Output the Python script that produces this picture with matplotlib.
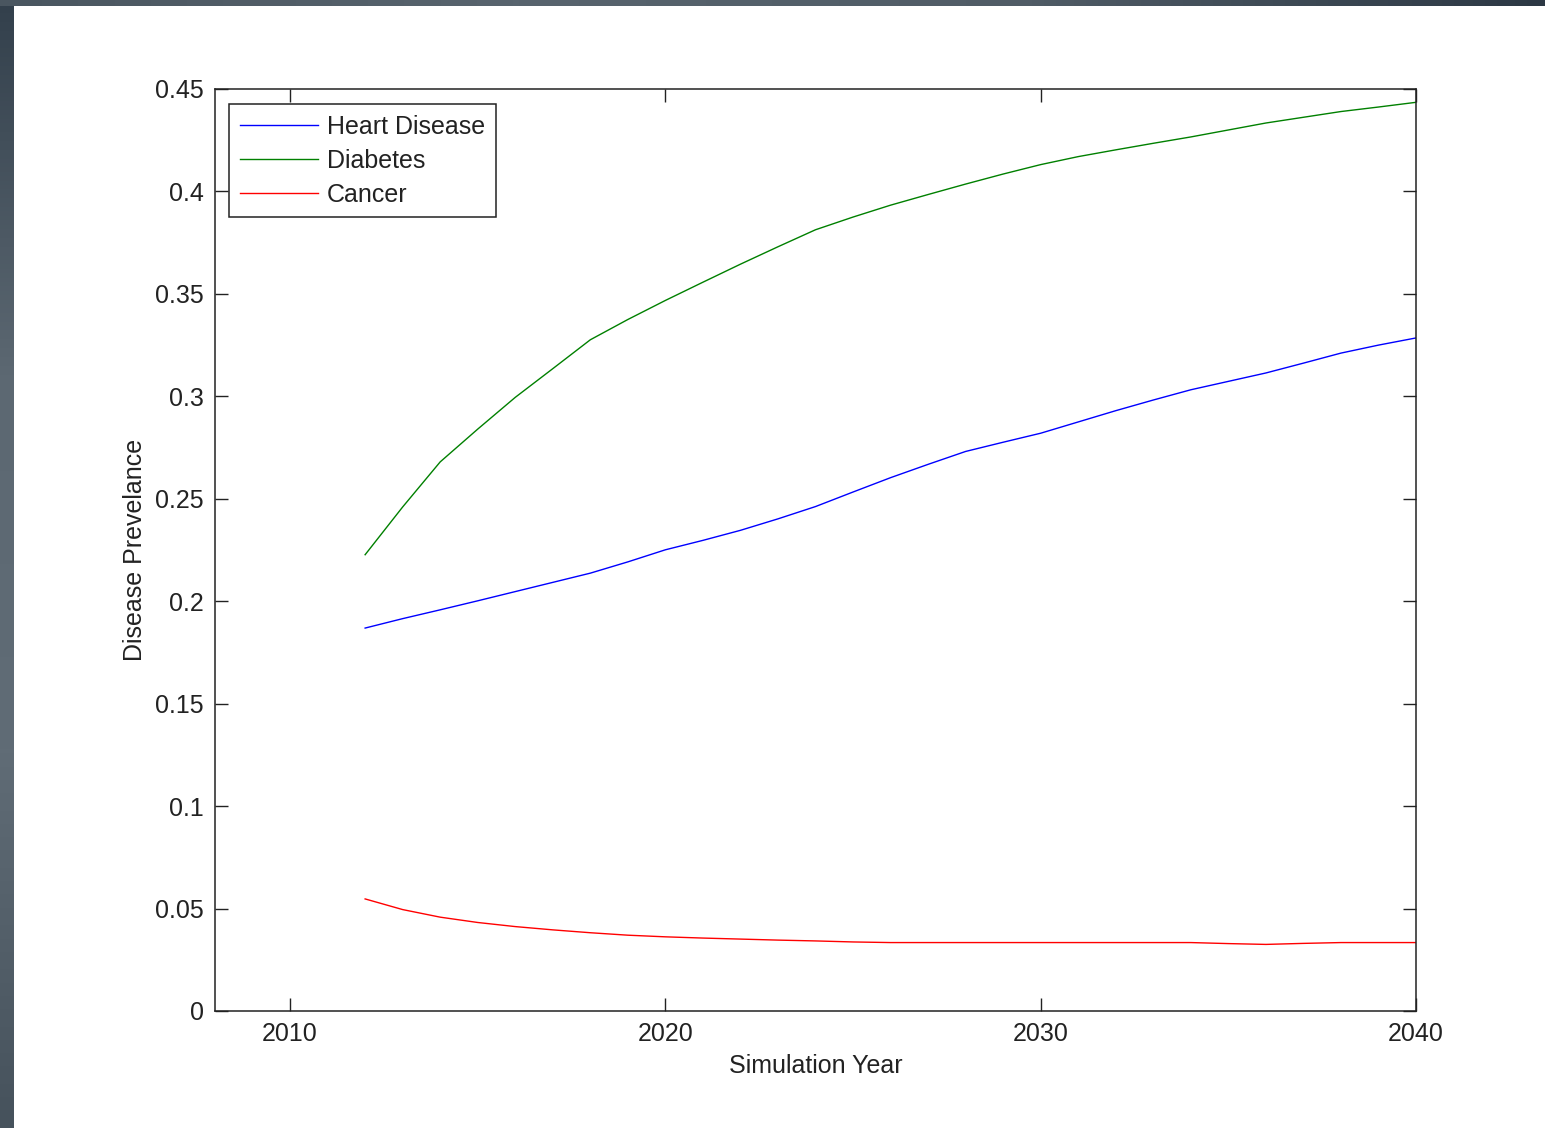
import numpy as np
import matplotlib.pyplot as plt
from matplotlib.colors import LinearSegmentedColormap

# simulated prevalence, one value per year
years = list(range(2012, 2041))
heart_disease = [0.1869, 0.1915, 0.1958, 0.2002, 0.2047, 0.2092, 0.2137, 0.2192,
                 0.2251, 0.2297, 0.2346, 0.2402, 0.2462, 0.2533, 0.2603, 0.2668,
                 0.2731, 0.2776, 0.2820, 0.2875, 0.2930, 0.2982, 0.3032, 0.3073,
                 0.3114, 0.3162, 0.3211, 0.3250, 0.3285]
diabetes = [0.2227, 0.2460, 0.2680, 0.2840, 0.2995, 0.3135, 0.3276, 0.3375,
            0.3468, 0.3557, 0.3645, 0.3730, 0.3813, 0.3875, 0.3933, 0.3985,
            0.4036, 0.4085, 0.4131, 0.4170, 0.4203, 0.4235, 0.4266, 0.4300,
            0.4334, 0.4362, 0.4390, 0.4412, 0.4435]
cancer = [0.0547, 0.0495, 0.0458, 0.0432, 0.0412, 0.0396, 0.0382, 0.0370,
          0.0362, 0.0356, 0.0351, 0.0346, 0.0342, 0.0337, 0.0334, 0.0334,
          0.0334, 0.0334, 0.0334, 0.0334, 0.0334, 0.0334, 0.0334, 0.0329,
          0.0325, 0.0330, 0.0334, 0.0334, 0.0334]

xticks = [2010, 2020, 2030, 2040]
yticks = [0, 0.05, 0.1, 0.15, 0.2, 0.25, 0.3, 0.35, 0.4, 0.45]
ytick_labels = ['0', '0.05', '0.1', '0.15', '0.2', '0.25', '0.3', '0.35', '0.4', '0.45']

plt.rcParams['font.family'] = ['Liberation Sans', 'DejaVu Sans']

W, H = 1545, 1128
fig = plt.figure(figsize=(W / 100, H / 100), dpi=100, facecolor='white')

# dark window frame along the left and top edges
grad = np.linspace(0, 1, 256).reshape(-1, 1)
left_strip = fig.add_axes([0, 0, 13 / W, 1])
left_strip.imshow(grad, aspect='auto', extent=[0, 1, 0, 1],
                  cmap=LinearSegmentedColormap.from_list('l', ['#33404c', '#5c6872', '#606c76', '#46525c']))
left_strip.axis('off')
top_strip = fig.add_axes([0, 1 - 6 / H, 1, 6 / H])
top_strip.imshow(grad.T, aspect='auto', extent=[0, 1, 0, 1],
                 cmap=LinearSegmentedColormap.from_list('t', ['#4a5660', '#58646e', '#505c66', '#2c3844']))
top_strip.axis('off')

ax = fig.add_axes([215 / W, 117 / H, 1201 / W, 922 / H])
ax.plot(years, heart_disease, color='#0000ff', lw=1.0, label='Heart Disease')
ax.plot(years, diabetes, color='#008000', lw=1.0, label='Diabetes')
ax.plot(years, cancer, color='#ff0000', lw=1.0, label='Cancer')

ax.set_xlim(2008, 2040)
ax.set_ylim(0, 0.45)
ax.set_xticks(xticks)
ax.set_yticks(yticks)
ax.set_yticklabels(ytick_labels)
ax.tick_params(direction='in', length=9.5, width=1.0, top=True, right=True,
               labelsize=18, colors='#222222', pad=8)
for sp in ax.spines.values():
    sp.set_linewidth(1.1)
    sp.set_color('#222222')

ax.set_xlabel('Simulation Year', fontsize=18, color='#222222', labelpad=6)
ax.set_ylabel('Disease Prevelance', fontsize=18, color='#222222', labelpad=6)

leg = ax.legend(loc='upper left', bbox_to_anchor=(14 / 1201, 1 - 15 / 922),
                borderaxespad=0, fontsize=18, handlelength=3.15, handletextpad=0.36,
                labelspacing=0.4, borderpad=0.42, fancybox=False, framealpha=1)
leg.get_frame().set_edgecolor('#222222')
leg.get_frame().set_linewidth(1.1)
for t in leg.get_texts():
    t.set_color('#222222')

fig.savefig('out.png', dpi=100, facecolor='white')
